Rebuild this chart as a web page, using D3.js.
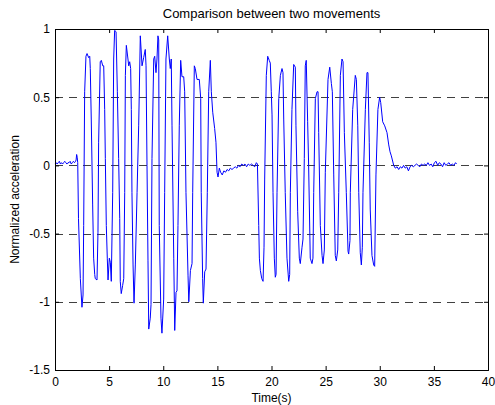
<!DOCTYPE html>
<html>
<head>
<meta charset="utf-8">
<script src="https://cdn.jsdelivr.net/npm/d3@7"></script>
<style>
  html, body { margin: 0; padding: 0; background: #fff; }
  svg { display: block; }
  text { font-family: Arial, "Liberation Sans", Helvetica, sans-serif; fill: #000; }
</style>
</head>
<body>
<svg id="chart" width="495" height="405"></svg>
<script>
// Sample times (s) of the acceleration trace
const timeS = [
  0.0,0.1,0.2,0.3,0.4,0.5,0.6,0.7,0.8,0.9,1.0,1.1,1.2,1.3,1.4,1.5,1.6,1.7,1.8,1.9,1.95,2.0,2.05,2.1,
  2.17,2.34,2.49,2.59,
  2.65,2.74,2.86,2.96,3.11,3.21,3.26,3.35,3.48,3.57,3.67,3.72,3.88,
  3.97,4.03,4.18,4.28,4.41,4.50,4.59,4.65,4.74,4.83,4.90,5.02,5.11,5.20,
  5.33,5.42,5.51,5.64,5.76,5.88,5.98,6.03,6.12,6.25,6.35,
  6.44,6.50,6.59,6.74,6.81,6.90,6.99,7.05,7.11,7.21,7.30,7.42,
  7.58,7.73,7.88,8.04,8.19,8.34,8.41,8.50,8.59,8.66,8.80,8.87,
  8.96,9.12,9.21,9.33,9.42,9.51,9.58,9.63,9.79,9.88,10.04,
  10.13,10.25,10.41,10.56,10.65,10.74,10.81,10.97,11.06,11.18,11.27,
  11.36,11.48,11.61,11.73,11.89,11.98,12.10,12.29,12.36,12.51,12.66,
  12.72,12.87,12.96,13.12,13.33,13.46,13.51,13.64,13.70,13.83,13.95,
  14.07,14.20,14.35,14.44,14.57,14.75,14.87,14.97,15.06,15.18,
  15.3,15.45,15.6,15.75,15.9,16.05,16.2,16.35,16.5,16.65,16.8,16.95,17.1,17.25,17.4,17.55,17.7,17.85,18.0,18.15,18.3,18.45,18.6,18.7,
  18.82,18.88,18.97,19.10,19.22,19.31,
  19.37,19.52,19.65,19.70,19.79,19.89,19.98,20.05,20.14,20.26,20.35,20.42,
  20.51,20.67,20.82,20.97,21.06,21.13,21.27,21.43,21.59,21.68,
  21.74,21.89,22.05,22.20,22.26,22.42,22.57,22.66,22.82,22.91,
  23.03,23.12,23.21,23.34,23.43,23.58,23.74,23.83,
  23.90,24.05,24.21,24.30,24.36,24.51,24.67,24.76,24.88,
  24.97,25.22,25.38,25.53,25.62,25.75,25.89,25.99,26.12,
  26.21,26.36,26.51,26.61,26.73,26.91,27.07,27.13,27.25,
  27.28,27.50,27.74,27.84,27.97,28.06,28.20,28.30,28.39,
  28.45,28.67,28.82,28.91,29.03,29.12,29.28,29.44,29.53,
  29.65,29.83,29.99,30.09,30.27,30.46,30.67,30.83,30.95,31.07,31.29,31.44,
  31.6,31.75,31.9,32.05,32.2,32.35,32.5,32.65,32.8,32.95,33.1,33.25,33.4,33.55,33.7,33.85,34.0,34.15,34.3,34.45,
  34.6,34.75,34.9,35.05,35.2,35.35,35.5,35.65,35.8,35.95,36.1,36.25,36.4,36.55,36.7,36.85,37.0,37.1
];

// Normalized acceleration at each sample time
const accel = [
  0.01,0.02,0.01,0.02,0.03,0.01,0.02,0.01,0.02,0.03,0.02,0.01,0.02,0.02,0.03,0.01,0.02,0.03,0.02,0.03,0.04,0.08,0.06,0.02,
  -0.39,-0.83,-1.04,-0.95,
  -0.44,0.54,0.80,0.82,0.79,0.80,0.71,0.34,-0.29,-0.68,-0.80,-0.83,-0.84,
  -0.49,0.17,0.76,0.77,0.73,0.73,0.41,0.05,-0.44,-0.68,-0.84,-0.68,-0.71,-0.85,
  -0.20,0.78,0.99,0.98,0.54,0.05,-0.39,-0.85,-0.94,-0.88,-0.83,
  -0.20,0.66,0.88,0.78,0.73,0.76,0.71,0.41,-0.20,-0.73,-1.01,-0.73,
  -0.20,0.29,0.95,0.73,0.79,0.85,0.73,0.00,-0.70,-1.20,-1.12,-1.02,
  0.05,0.78,0.80,0.68,0.78,0.95,0.92,-0.44,-1.12,-1.23,-0.98,
  -0.20,0.78,0.95,0.78,0.71,0.78,0.29,-0.68,-1.21,-0.93,-0.92,
  -0.44,0.29,0.77,0.65,0.65,0.54,-0.20,-0.81,-1.00,-0.77,-0.72,
  -0.20,0.73,0.71,0.63,0.63,0.49,-0.20,-0.83,-1.01,-0.78,-0.76,
  -0.20,0.54,0.77,0.54,0.39,0.27,0.17,-0.05,-0.085,-0.02,
  -0.05,-0.07,-0.04,-0.05,-0.03,-0.04,-0.02,-0.03,-0.02,-0.01,-0.02,0.00,-0.01,0.01,0.00,0.01,-0.01,0.01,0.00,0.01,0.00,-0.01,0.02,0.01,
  -0.44,-0.68,-0.77,-0.83,-0.85,-0.60,
  -0.10,0.66,0.80,0.79,0.77,0.75,0.54,0.37,-0.20,-0.68,-0.82,-0.80,
  -0.20,0.49,0.66,0.71,0.68,0.34,-0.20,-0.68,-0.85,-0.80,
  -0.20,0.41,0.74,0.72,0.29,-0.34,-0.68,-0.72,-0.60,-0.54,
  0.05,0.73,0.77,0.32,0.00,-0.68,-0.72,-0.68,
  -0.20,0.49,0.54,0.54,0.24,-0.44,-0.66,-0.72,-0.62,
  -0.05,0.63,0.72,0.60,0.54,-0.07,-0.66,-0.70,-0.62,
  -0.20,0.66,0.78,0.76,0.24,-0.20,-0.63,-0.65,-0.55,
  -0.20,0.41,0.66,0.63,0.29,-0.20,-0.64,-0.73,-0.60,
  -0.20,0.41,0.68,0.68,0.17,-0.32,-0.66,-0.73,-0.74,
  -0.07,0.41,0.50,0.46,0.32,0.29,0.24,0.15,0.10,0.07,0.00,-0.02,
  -0.01,-0.03,-0.01,-0.02,0.00,-0.02,-0.01,-0.04,-0.01,0.00,-0.01,0.00,0.01,0.00,-0.01,0.01,0.00,0.01,0.00,0.02,
  0.00,0.01,-0.01,0.02,0.03,0.00,0.02,0.01,-0.01,0.02,0.00,0.01,0.02,0.00,0.01,0.00,0.02,0.01
];

// Axis ticks and dashed reference levels
const xTicks = [0, 5, 10, 15, 20, 25, 30, 35, 40];
const yTicks = [-1.5, -1, -0.5, 0, 0.5, 1];
const yTickLabels = ["-1.5", "-1", "-0.5", "0", "0.5", "1"];
const refLevels = [-1, -0.5, 0, 0.5];

const titleText = "Comparison between two movements";
const xLabelText = "Time(s)";
const yLabelText = "Normalized acceleration";

const svg = d3.select("#chart");
const plot = { left: 55, right: 488, top: 29, bottom: 370 };
const fontStack = "Arial, 'Liberation Sans', Helvetica, sans-serif";

const x = d3.scaleLinear().domain([0, 40]).range([plot.left, plot.right]);
const y = d3.scaleLinear().domain([-1.5, 1]).range([plot.bottom, plot.top]);

// dashed horizontal reference lines
svg.append("g")
  .selectAll("line")
  .data(refLevels)
  .join("line")
  .attr("x1", plot.left)
  .attr("x2", plot.right)
  .attr("y1", d => Math.round(y(d)) + 0.5)
  .attr("y2", d => Math.round(y(d)) + 0.5)
  .attr("stroke", "#404040")
  .attr("stroke-width", 1)
  .attr("stroke-dasharray", "8,6");

// acceleration trace
const series = timeS.map((t, i) => [t, accel[i]]);
svg.append("path")
  .datum(series)
  .attr("fill", "none")
  .attr("stroke", "#0000ff")
  .attr("stroke-width", 1)
  .attr("stroke-linejoin", "round")
  .attr("d", d3.line().x(d => x(d[0])).y(d => y(d[1])));

// axes (ticks pointing inward, box style)
const tickLen = 4;
const fmtY = d => yTickLabels[yTicks.indexOf(d)];

const bottomAxis = d3.axisBottom(x).tickValues(xTicks).tickSize(-tickLen).tickPadding(7.5).tickFormat(d3.format("d"));
const topAxis = d3.axisTop(x).tickValues(xTicks).tickSize(-tickLen).tickFormat("");
const leftAxis = d3.axisLeft(y).tickValues(yTicks).tickSize(-tickLen).tickPadding(5).tickFormat(fmtY);
const rightAxis = d3.axisRight(y).tickValues(yTicks).tickSize(-tickLen).tickFormat("");

function styleAxis(g) {
  g.selectAll("path").attr("stroke", "#000").attr("stroke-width", 1);
  g.selectAll("line").attr("stroke", "#000").attr("stroke-width", 1);
  g.selectAll("text").style("font-family", fontStack)
    .style("font-size", "12px").attr("fill", "#000");
}

svg.append("g").attr("transform", `translate(0,${plot.bottom})`).call(bottomAxis).call(styleAxis);
svg.append("g").attr("transform", `translate(0,${plot.top})`).call(topAxis).call(styleAxis);
svg.append("g").attr("transform", `translate(${plot.left},0)`).call(leftAxis).call(styleAxis);
svg.append("g").attr("transform", `translate(${plot.right},0)`).call(rightAxis).call(styleAxis);

// title and axis labels
svg.append("text")
  .attr("x", (plot.left + plot.right) / 2)
  .attr("y", 18)
  .attr("text-anchor", "middle")
  .style("font-size", "13px")
  .text(titleText);

svg.append("text")
  .attr("x", (plot.left + plot.right) / 2)
  .attr("y", 402)
  .attr("text-anchor", "middle")
  .style("font-size", "12px")
  .text(xLabelText);

svg.append("text")
  .attr("transform", `translate(19,${(plot.top + plot.bottom) / 2}) rotate(-90)`)
  .attr("text-anchor", "middle")
  .style("font-size", "12px")
  .text(yLabelText);
</script>
</body>
</html>
